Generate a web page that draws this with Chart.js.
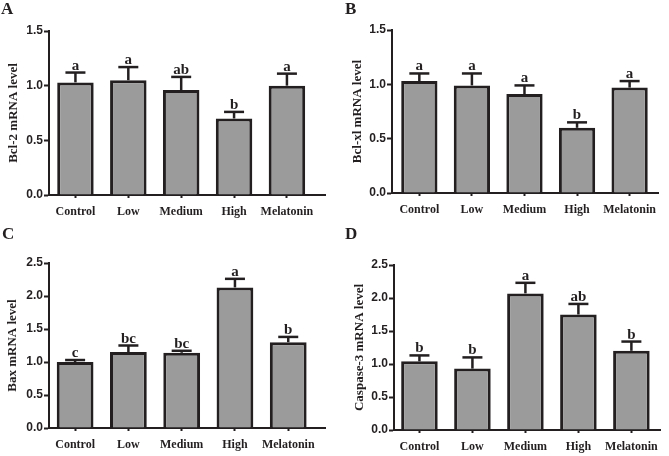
<!DOCTYPE html>
<html>
<head>
<meta charset="utf-8">
<script src="https://cdn.jsdelivr.net/npm/chart.js@4.4.1/dist/chart.umd.min.js"></script>
<style>
  body { margin: 0; background: #fff; }
  #wrap { position: relative; width: 669px; height: 456px; }
  canvas { position: absolute; }
  .tag { position: absolute; font: bold 17px "Liberation Serif", serif; line-height: 17px; color: #231f20; }
</style>
</head>
<body>
<div id="wrap">
  <canvas id="cA" width="330" height="225" style="left:0;top:0"></canvas>
  <canvas id="cB" width="334" height="225" style="left:335px;top:0"></canvas>
  <canvas id="cC" width="330" height="231" style="left:0;top:225px"></canvas>
  <canvas id="cD" width="334" height="231" style="left:335px;top:225px"></canvas>
  <div class="tag" style="left:1px;top:0">A</div>
  <div class="tag" style="left:345px;top:0">B</div>
  <div class="tag" style="left:2px;top:225px">C</div>
  <div class="tag" style="left:345px;top:225px">D</div>
</div>
<script>
// groups on the x axis
var groups = ['Control', 'Low', 'Medium', 'High', 'Melatonin'];

// A: Bcl-2
var bcl2Mean = [1.03, 1.05, 0.96, 0.70, 1.00];
var bcl2Err = [0.09, 0.12, 0.12, 0.06, 0.11];
var bcl2Sig = ['a', 'a', 'ab', 'b', 'a'];

// B: Bcl-xl
var bclxlMean = [1.03, 0.99, 0.91, 0.60, 0.97];
var bclxlErr = [0.07, 0.11, 0.08, 0.05, 0.06];
var bclxlSig = ['a', 'a', 'a', 'b', 'a'];

// C: Bax
var baxMean = [1.00, 1.15, 1.14, 2.13, 1.30];
var baxErr = [0.03, 0.10, 0.03, 0.13, 0.08];
var baxSig = ['c', 'bc', 'bc', 'a', 'b'];

// D: Caspase-3
var casp3Mean = [1.04, 0.93, 2.07, 1.75, 1.20];
var casp3Err = [0.09, 0.17, 0.16, 0.16, 0.14];
var casp3Sig = ['b', 'b', 'a', 'ab', 'b'];

// y axis ranges
var yMaxSmall = 1.5;
var yMaxLarge = 2.5;
var yStep = 0.5;

var dark = '#231f20';
var barGray = '#9b9b9b';

// draws the upward error bars and the letters above them
var sigPlugin = {
  id: 'sigBars',
  afterDatasetsDraw: function (chart) {
    var ctx = chart.ctx;
    var ds = chart.data.datasets[0];
    var meta = chart.getDatasetMeta(0);
    var y = chart.scales.y;
    ctx.save();
    ctx.strokeStyle = dark;
    ctx.fillStyle = dark;
    ctx.font = 'bold 15px "Liberation Serif", serif';
    ctx.textAlign = 'center';
    ctx.textBaseline = 'alphabetic';
    meta.data.forEach(function (bar, i) {
      var top = y.getPixelForValue(ds.means[i] + ds.errs[i]);
      ctx.lineWidth = 2.5;
      ctx.beginPath();
      ctx.moveTo(bar.x, bar.y);
      ctx.lineTo(bar.x, top);
      ctx.stroke();
      ctx.beginPath();
      ctx.moveTo(bar.x - 10, top);
      ctx.lineTo(bar.x + 10, top);
      ctx.stroke();
      ctx.fillText(ds.sigs[i], bar.x, top - 3);
    });
    ctx.restore();
  }
};

function panel(id, title, means, errs, sigs, yMax, lay) {
  new Chart(id, {
    type: 'bar',
    data: {
      datasets: [{
        data: means.map(function (v, i) { return { x: i, y: v }; }),
        means: means,
        errs: errs,
        sigs: sigs,
        backgroundColor: barGray,
        borderColor: dark,
        borderWidth: 3,
        barPercentage: 0.69,
        categoryPercentage: 1
      }]
    },
    options: {
      responsive: false,
      animation: false,
      layout: { padding: { left: 0, top: lay.padTop, right: lay.padR, bottom: 0 } },
      plugins: { legend: { display: false }, tooltip: { enabled: false } },
      scales: {
        x: {
          type: 'linear',
          offset: false,
          min: lay.xMin,
          max: lay.xMax,
          afterBuildTicks: function (s) { s.ticks = groups.map(function (g, i) { return { value: i }; }); },
          afterFit: function (s) { s.height = lay.xH; },
          ticks: {
            callback: function (v) { return groups[v]; },
            font: { family: '"Liberation Serif", serif', weight: 'bold', size: 12 },
            color: dark,
            padding: 7,
            maxRotation: 0,
            autoSkip: false
          },
          grid: { offset: false, drawOnChartArea: false, tickLength: 3, tickWidth: 2, tickColor: dark },
          border: { width: 2, color: dark }
        },
        y: {
          min: 0,
          max: yMax,
          afterFit: function (s) { s.width = lay.axisW; },
          ticks: {
            stepSize: yStep,
            callback: function (v) { return v.toFixed(1); },
            font: { family: '"Liberation Sans", Arial, sans-serif', weight: 'bold', size: 12 },
            color: dark,
            padding: 1
          },
          grid: { drawOnChartArea: false, tickLength: 5, tickWidth: 2, tickColor: dark },
          border: { width: 2, color: dark },
          title: {
            display: true,
            text: title,
            font: { family: '"Liberation Serif", serif', weight: 'bold', size: 13 },
            color: dark,
            padding: { top: lay.titlePad, bottom: 0 }
          }
        }
      }
    },
    plugins: [sigPlugin]
  });
}

panel('cA', 'Bcl-2 mRNA level', bcl2Mean, bcl2Err, bcl2Sig, yMaxSmall,
  { padTop: 31, padR: 5, xH: 30, axisW: 49, xMin: -0.5, xMax: 4.72, titlePad: 6 });
panel('cB', 'Bcl-xl mRNA level', bclxlMean, bclxlErr, bclxlSig, yMaxSmall,
  { padTop: 30, padR: 11, xH: 32, axisW: 57, xMin: -0.52, xMax: 4.54, titlePad: 15 });
panel('cC', 'Bax mRNA level', baxMean, baxErr, baxSig, yMaxLarge,
  { padTop: 38, padR: 5, xH: 28, axisW: 49, xMin: -0.49, xMax: 4.69, titlePad: 5 });
panel('cD', 'Caspase-3 mRNA level', casp3Mean, casp3Err, casp3Sig, yMaxLarge,
  { padTop: 40, padR: 9, xH: 26, axisW: 59, xMin: -0.48, xMax: 4.54, titlePad: 17 });
</script>
</body>
</html>
